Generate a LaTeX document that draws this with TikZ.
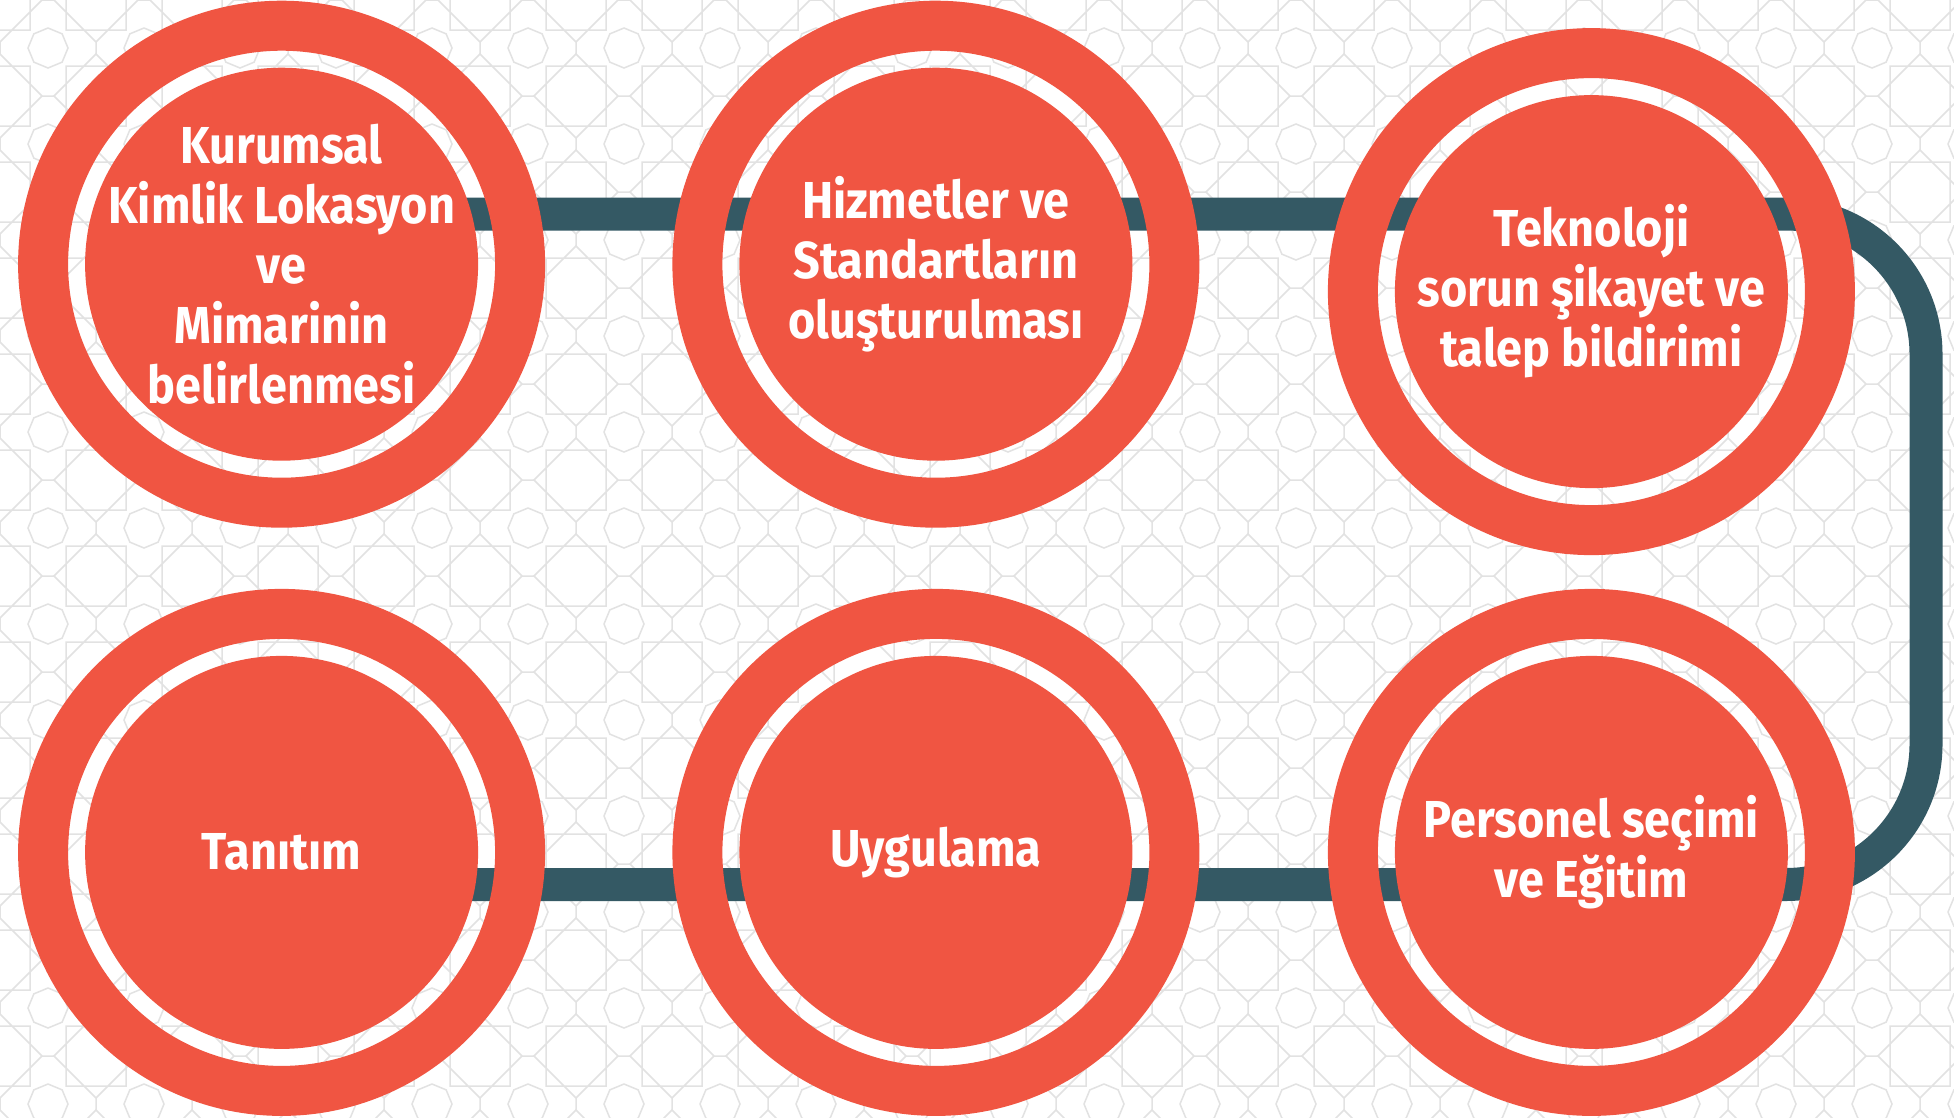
\documentclass[tikz,border=0pt]{standalone}
\usepackage{fontspec}
\setmainfont{Fira Sans}[FakeStretch=0.9]
\usetikzlibrary{backgrounds}
\definecolor{ringred}{RGB}{240,85,66}
\definecolor{bandteal}{RGB}{52,89,100}
\definecolor{motifgray}{RGB}{226,226,226}
\newcommand{\stage}[3]{%
 \node[ring] (#1) at (#2) {};%
 \node[disc] (#1-disc) at (#1) {};%
 \node[caption] (#1-text) at (#1) {#3}%
}

\begin{document}
\begin{tikzpicture}[x=1pt,y=-1pt,
   ring/.style={circle,draw=ringred,line width=50pt,minimum size=477pt,inner sep=0pt},
   disc/.style={circle,fill=ringred,minimum size=393pt,inner sep=0pt},
   caption/.style={text=white,align=center,font=\bfseries\fontsize{52}{60}\selectfont},
   band/.style={draw=bandteal,line width=33pt,rounded corners=140pt},
   motif/.style={draw=motifgray,line width=1.5pt}]
   \useasboundingbox (0,0) rectangle (1954,1117);
   \stage{kurumsal}{281.6,264.2}{Kurumsal\\Kimlik Lokasyon\\ve\\Mimarinin\\belirlenmesi};
   \stage{hizmet}{935.9,264.2}{Hizmetler ve\\Standartların\\oluşturulması};
   \stage{teknoloji}{1591.4,291.6}{Teknoloji\\sorun şikayet ve\\talep bildirimi};
   \stage{tanitim}{281.6,852.4}{Tanıtım};
   \stage{uygulama}{935.9,852.4}{Uygulama};
   \stage{personel}{1591.4,852.4}{Personel seçimi\\ve Eğitim};
   \coordinate (ne) at (1926,214);
   \coordinate (se) at (1926,884.5);
   \begin{scope}[on background layer]
     \fill[white] (0,0) rectangle (1954,1117);
     \clip (0,0) rectangle (1954,1117);
     % background motif
     \foreach \i in {0,...,21}
       \foreach \j in {0,...,12} {
         \draw[motif,shift={(\i*96,\j*96)}] (-30,-30) rectangle (30,30)
           (0,-42) -- (42,0) -- (0,42) -- (-42,0) -- cycle
           (42,0) -- (54,0) (0,42) -- (0,54);
         \draw[motif,shift={(\i*96+48,\j*96+48)}] (0:20) \foreach \a in {45,90,...,315} { -- (\a:20) } -- cycle;
       }
     \draw[band] (kurumsal |- ne) -- (ne) -- (se) -- (tanitim |- se);
   \end{scope}
\end{tikzpicture}
\end{document}
